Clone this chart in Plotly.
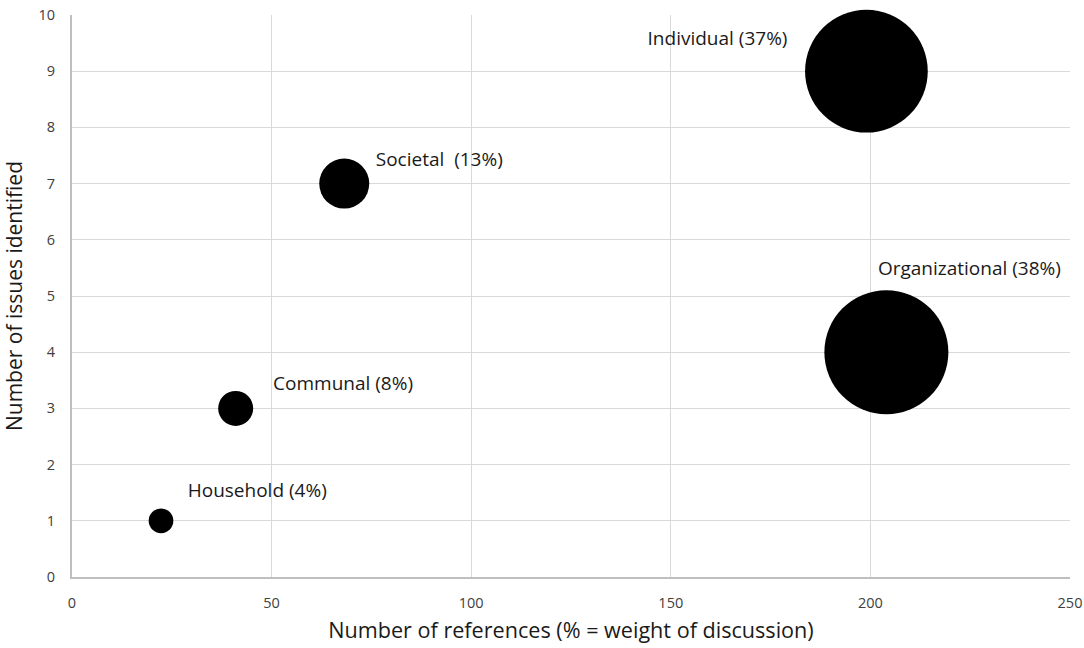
import plotly.graph_objects as go

categories = ["Household", "Communal", "Societal", "Individual", "Organizational"]
label_texts = ["Household (4%)", "Communal (8%)", "Societal  (13%)", "Individual (37%)", "Organizational (38%)"]
references = [22.3, 41.0, 68.2, 199.0, 204.0]
issues = [1, 3, 7, 9, 4]
bubble_size = [24.7, 35, 50, 122.7, 124]

label_x = [46.4, 67.9, 92.0, 161.7, 224.8]
label_y = [1.51, 3.42, 7.4, 9.55, 5.46]

fig = go.Figure()
fig.add_trace(go.Scatter(
    x=references, y=issues, mode="markers",
    marker=dict(size=bubble_size, sizemode="diameter", color="black", opacity=1, line=dict(width=0)),
    hoverinfo="text", text=categories, showlegend=False, cliponaxis=False,
))
fig.add_trace(go.Scatter(
    x=label_x, y=label_y, mode="text", text=label_texts,
    textfont=dict(family="Open Sans", size=19, color="#1a1a1a"),
    textposition="middle center", showlegend=False, hoverinfo="skip", cliponaxis=False,
))

fig.update_layout(
    width=1084, height=648,
    margin=dict(l=72, r=14, t=15, b=71),
    plot_bgcolor="white", paper_bgcolor="white",
    font=dict(family="Open Sans", color="#404040"),
)
fig.update_xaxes(
    range=[0, 250], tickvals=[0, 50, 100, 150, 200, 250],
    showgrid=True, gridcolor="#d9d9d9", gridwidth=1,
    showline=True, linecolor="#bfbfbf", linewidth=2, zeroline=False,
    ticks="", ticklen=0, ticklabelstandoff=12, automargin=False, ticklabeloverflow="allow",
    tickfont=dict(size=14.5, color="#404040"),
    title=dict(text="Number of references (% = weight of discussion)", font=dict(size=21.6, color="#1a1a1a"), standoff=11),
)
fig.update_yaxes(
    range=[0, 10], tickvals=list(range(0, 11)),
    showgrid=True, gridcolor="#d9d9d9", gridwidth=1,
    showline=True, linecolor="#bfbfbf", linewidth=2, zeroline=False,
    ticks="", ticklabelstandoff=12, automargin=False, ticklabeloverflow="allow",
    tickfont=dict(size=14.5, color="#404040"),
    title=dict(text="Number of issues identified", font=dict(size=21, color="#1a1a1a"), standoff=10),
)

fig.write_html(
    "out.html",
    config={"displayModeBar": False},
    post_script="document.body.style.margin='0';document.body.style.overflow='hidden';",
)
